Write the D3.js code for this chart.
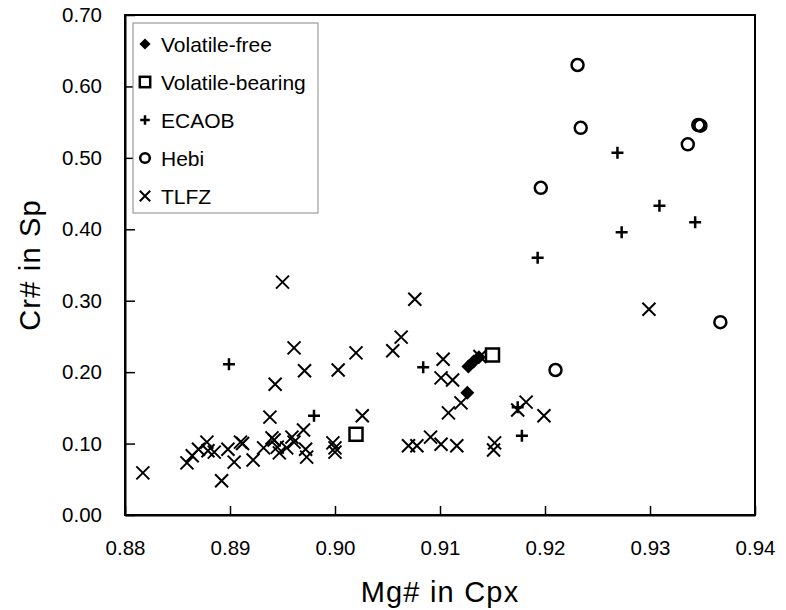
<!DOCTYPE html>
<html>
<head>
<meta charset="utf-8">
<title>Cr# in Sp vs Mg# in Cpx</title>
<style>
body { margin: 0; background: #fff; }
text { font-family: "Liberation Sans", Arial, sans-serif; fill: #000; }
.tick-label { font-size: 20.5px; }
.axis-title { font-size: 29px; letter-spacing: 1.2px; }
.legend-label { font-size: 21px; }
</style>
</head>
<body>
<svg id="chart" width="786" height="610"></svg>
<script src="https://cdnjs.cloudflare.com/ajax/libs/d3/7.8.5/d3.min.js"></script>
<script>
// data: [Mg# in Cpx, Cr# in Sp]
var volatileFree = [[0.9127, 0.208], [0.9132, 0.215], [0.9137, 0.221], [0.9126, 0.171]];
var volatileBearing = [[0.9150, 0.224], [0.9020, 0.113]];
var ecaob = [[0.8899, 0.211], [0.8980, 0.139], [0.9084, 0.207], [0.9178, 0.111], [0.9174, 0.151],
  [0.9193, 0.360], [0.9269, 0.507], [0.9273, 0.396], [0.9309, 0.433], [0.9343, 0.410]];
var hebi = [[0.9231, 0.630], [0.9234, 0.542], [0.9346, 0.546], [0.9348, 0.545], [0.9336, 0.519],
  [0.9196, 0.458], [0.9210, 0.203], [0.9367, 0.270]];
var tlfz = [[0.8817, 0.059], [0.8859, 0.073], [0.8864, 0.083], [0.8870, 0.092], [0.8878, 0.102],
  [0.8879, 0.090], [0.8885, 0.088], [0.8892, 0.048], [0.8898, 0.092], [0.8904, 0.074],
  [0.8910, 0.102], [0.8912, 0.100], [0.8922, 0.077], [0.8932, 0.094], [0.8938, 0.137],
  [0.8943, 0.183], [0.8940, 0.108], [0.8942, 0.105], [0.8945, 0.095], [0.8947, 0.087],
  [0.8950, 0.326], [0.8954, 0.094], [0.8959, 0.109], [0.8961, 0.234], [0.8961, 0.102],
  [0.8970, 0.119], [0.8971, 0.202], [0.8972, 0.092], [0.8973, 0.081], [0.8998, 0.101],
  [0.9000, 0.094], [0.9000, 0.088], [0.9003, 0.203], [0.9020, 0.227], [0.9026, 0.139],
  [0.9055, 0.230], [0.9063, 0.249], [0.9076, 0.302], [0.9070, 0.097], [0.9078, 0.097],
  [0.9091, 0.109], [0.9101, 0.099], [0.9116, 0.097], [0.9103, 0.218], [0.9101, 0.192],
  [0.9112, 0.189], [0.9108, 0.143], [0.9120, 0.157], [0.9138, 0.222], [0.9152, 0.101],
  [0.9151, 0.091], [0.9174, 0.147], [0.9182, 0.158], [0.9199, 0.139], [0.9299, 0.288]];

var xTicks = [0.88, 0.89, 0.90, 0.91, 0.92, 0.93, 0.94];
var yTicks = [0.00, 0.10, 0.20, 0.30, 0.40, 0.50, 0.60, 0.70];
var legendNames = ["Volatile-free", "Volatile-bearing", "ECAOB", "Hebi", "TLFZ"];

(function () {
  var svg = d3.select("#chart");
  var left = 125, right = 755, plotTop = 15, plotBottom = 515;

  var x = d3.scaleLinear().domain([0.88, 0.94]).range([left, right]);
  var y = d3.scaleLinear().domain([0, 0.70]).range([plotBottom, plotTop]);

  // plot frame
  svg.append("rect")
    .attr("x", left).attr("y", plotTop)
    .attr("width", right - left).attr("height", plotBottom - plotTop)
    .attr("fill", "none").attr("stroke", "#000").attr("stroke-width", 2);

  var xAxis = svg.append("g").attr("transform", "translate(0," + plotBottom + ")")
    .call(d3.axisBottom(x).tickValues(xTicks).tickSizeInner(-9).tickSizeOuter(0).tickPadding(25).tickFormat(d3.format(".2f")));
  var yAxis = svg.append("g").attr("transform", "translate(" + left + ",0)")
    .call(d3.axisLeft(y).tickValues(yTicks).tickSizeInner(-10).tickSizeOuter(0).tickPadding(23).tickFormat(d3.format(".2f")));

  [xAxis, yAxis].forEach(function (g) {
    g.attr("font-size", null).attr("font-family", null);
    g.select(".domain").attr("stroke", "#000").attr("stroke-width", 2);
    g.selectAll(".tick line").attr("stroke", "#000").attr("stroke-width", 1.5);
    g.selectAll(".tick text").attr("class", "tick-label");
  });
  xAxis.selectAll(".tick text").attr("dy", "0.71em");

  svg.append("text").attr("class", "axis-title")
    .attr("x", (left + right) / 2).attr("y", 602)
    .attr("text-anchor", "middle").text("Mg# in Cpx");

  svg.append("text").attr("class", "axis-title")
    .attr("transform", "translate(40," + (plotBottom + plotTop) / 2 + ") rotate(-90)")
    .attr("text-anchor", "middle").text("Cr# in Sp");

  // marker shapes
  function cross(s) { return "M" + -s + "," + -s + "L" + s + "," + s + "M" + -s + "," + s + "L" + s + "," + -s; }
  function plus(s) { return "M" + -s + ",0L" + s + ",0M0," + -s + "L0," + s; }
  function diamond(s) { return "M0," + -s + "L" + s + ",0L0," + s + "L" + -s + ",0Z"; }

  function drawMarker(g, kind, scale) {
    scale = scale || 1;
    if (kind == "TLFZ") {
      g.append("path").attr("d", cross(6.5 * scale)).attr("stroke", "#000").attr("stroke-width", 2).attr("fill", "none");
    } else if (kind == "ECAOB") {
      g.append("path").attr("d", plus(6 * scale)).attr("stroke", "#000").attr("stroke-width", 2.5).attr("fill", "none");
    } else if (kind == "Hebi") {
      g.append("circle").attr("r", 6 * scale).attr("stroke", "#000").attr("stroke-width", 2.5).attr("fill", "none");
    } else if (kind == "Volatile-bearing") {
      var s = 6.5 * scale;
      g.append("rect").attr("x", -s).attr("y", -s).attr("width", 2 * s).attr("height", 2 * s)
        .attr("stroke", "#000").attr("stroke-width", 2.5).attr("fill", "#fff");
    } else {
      g.append("path").attr("d", diamond(7 * scale)).attr("fill", "#000");
    }
  }

  var series = [
    ["TLFZ", tlfz], ["Hebi", hebi], ["ECAOB", ecaob],
    ["Volatile-bearing", volatileBearing], ["Volatile-free", volatileFree]
  ];
  series.forEach(function (s) {
    svg.append("g").selectAll("g").data(s[1]).enter().append("g")
      .attr("transform", function (d) { return "translate(" + x(d[0]) + "," + y(d[1]) + ")"; })
      .each(function () { drawMarker(d3.select(this), s[0]); });
  });

  // legend
  var legend = svg.append("g");
  legend.append("rect").attr("x", 133).attr("y", 23).attr("width", 185).attr("height", 190)
    .attr("fill", "#fff").attr("stroke", "#888").attr("stroke-width", 1);
  legendNames.forEach(function (name, i) {
    var cy = 44 + i * 38;
    var m = legend.append("g").attr("transform", "translate(145," + cy + ")");
    drawMarker(m, name, 0.8);
    legend.append("text").attr("class", "legend-label")
      .attr("x", 161).attr("y", cy).attr("dy", "0.36em").text(name);
  });
})();
</script>
</body>
</html>
